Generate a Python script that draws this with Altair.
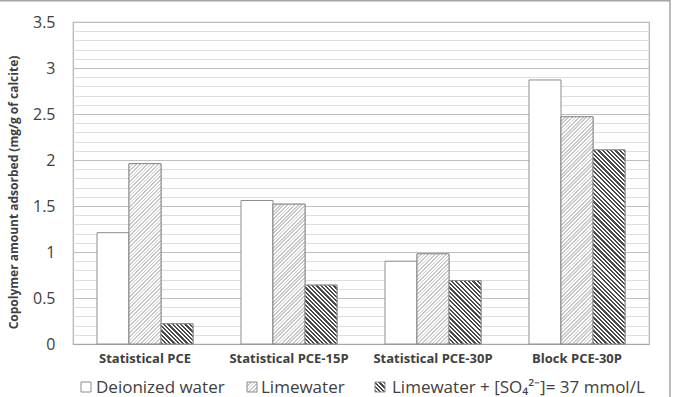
import altair as alt
import pandas as pd

# ---- data -------------------------------------------------------------
groups = ["Statistical PCE", "Statistical PCE-15P", "Statistical PCE-30P", "Block PCE-30P"]
series = ["Deionized water", "Limewater", "Limewater + [SO\u2084\u00b2\u207b]= 37 mmol/L"]
deionized_water = [1.21, 1.56, 0.90, 2.87]
limewater = [1.96, 1.52, 0.98, 2.47]
limewater_sulfate = [0.22, 0.64, 0.69, 2.11]
y_labels = [0, 0.5, 1, 1.5, 2, 2.5, 3, 3.5]
y_title = "Copolymer amount adsorbed (mg/g of calcite)"

# ---- layout -----------------------------------------------------------
PLOT_W, PLOT_H = 576, 322
Y_MAX = 3.5
PAD_INNER, PAD_OUTER = 1 / 3, 1 / 6
STEP = PLOT_W / (len(groups) - PAD_INNER + 2 * PAD_OUTER)
BAR_W = STEP * (1 - PAD_INNER) / len(series)
FONT = "Open Sans"
TEXT = "#404040"
EDGE = "#8c8c8c"

grid_values = [round(i * 0.1, 1) for i in range(int(Y_MAX * 10) + 1)]

rows = []
for name, vals in zip(series, [deionized_water, limewater, limewater_sulfate]):
    for g, v in zip(groups, vals):
        rows.append({"group": g, "series": name, "value": v})
df = pd.DataFrame(rows)


def hatch(w, h, rising, period, line, ink, paper="white"):
    """Diagonal stripes at 45 degrees for a w x h box, built as a hard-stop gradient."""
    k = (w + h) / (w * w + h * h)
    n = (w + h) / period
    stops = []
    j = 0
    while j < n:
        a = round(j / n, 5)
        m = round(min((j + line / period) / n, 1), 5)
        e = round(min((j + 1) / n, 1), 5)
        stops += [
            alt.GradientStop(offset=a, color=ink),
            alt.GradientStop(offset=m, color=ink),
            alt.GradientStop(offset=m, color=paper),
            alt.GradientStop(offset=e, color=paper),
        ]
        j += 1
    if rising:
        x1, y1, x2, y2 = 0, 0, k * w, k * h
    else:
        x1, y1, x2, y2 = 0, 1, k * w, 1 - k * h
    return alt.LinearGradient(gradient="linear", stops=stops, x1=x1, y1=y1, x2=x2, y2=y2)


LIME = dict(rising=True, period=3.6, line=1.7, ink="#c9c9c9")
SULF = dict(rising=False, period=4.3, line=2.2, ink="#4a4a4a")

# ---- encodings shared by every bar layer ---------------------------------
x_enc = alt.X(
    "group:N",
    sort=groups,
    scale=alt.Scale(domain=groups, paddingInner=PAD_INNER, paddingOuter=PAD_OUTER),
    axis=alt.Axis(
        title=None, labelAngle=0, ticks=False, grid=False,
        domain=True, domainColor="#a6a6a6", domainWidth=1,
        labelFont=FONT, labelFontSize=13, labelFontWeight="bold",
        labelColor=TEXT, labelPadding=8,
    ),
)
xo_enc = alt.XOffset(
    "series:N", sort=series,
    scale=alt.Scale(domain=series, paddingInner=0, paddingOuter=0),
)
y_enc = alt.Y(
    "value:Q",
    scale=alt.Scale(domain=[0, Y_MAX], nice=False, zero=True),
    axis=alt.Axis(
        values=grid_values,
        grid=True,
        gridColor={
            "condition": {"test": "abs(datum.value * 2 - round(datum.value * 2)) < 0.001",
                          "value": "#bfbfbf"},
            "value": "#dedede",
        },
        gridWidth=1.2,
        ticks=False, domain=False,
        labelExpr="abs(datum.value * 2 - round(datum.value * 2)) < 0.001 ? '' + datum.value : ''",
        labelOverlap=False,
        labelFont=FONT, labelFontSize=16, labelColor=TEXT, labelPadding=18,
        title=y_title, titleFont=FONT, titleFontSize=12, titleFontWeight="bold",
        titleColor=TEXT, titleAngle=270, titleX=-60, titleY=170,
        titleAlign="center", titleBaseline="middle",
    ),
)

base = alt.Chart(df).mark_bar(fill="white", stroke=EDGE, strokeWidth=1).encode(
    x=x_enc, xOffset=xo_enc, y=y_enc
)

layers = [base]
for name, vals, style in [(series[1], limewater, LIME), (series[2], limewater_sulfate, SULF)]:
    for g, v in zip(groups, vals):
        h = v * PLOT_H / Y_MAX
        layers.append(
            alt.Chart(df)
            .transform_filter((alt.datum.group == g) & (alt.datum.series == name))
            .mark_bar(fill=hatch(BAR_W, h, **style), stroke=EDGE, strokeWidth=1)
            .encode(x=x_enc, xOffset=xo_enc, y=y_enc)
        )

# ---- legend along the bottom ------------------------------------------------
one = pd.DataFrame({"k": [0]})
SYM = 10
legend_sym_x = [8, 174, 302]
legend_text_x = [23, 188, 319]
legend_fills = ["white", hatch(SYM, SYM, **LIME), hatch(SYM, SYM, **SULF)]
LEG_Y = 371
for sx, tx, fill, label in zip(legend_sym_x, legend_text_x, legend_fills, series):
    layers.append(
        alt.Chart(one).mark_rect(fill=fill, stroke=EDGE, strokeWidth=1, clip=False).encode(
            x=alt.value(sx), x2=alt.value(sx + SYM),
            y=alt.value(LEG_Y - SYM - 1), y2=alt.value(LEG_Y - 1),
        )
    )
    layers.append(
        alt.Chart(one).mark_text(
            text=label, font=FONT, fontSize=17, color=TEXT,
            align="left", baseline="alphabetic", clip=False,
        ).encode(x=alt.value(tx), y=alt.value(LEG_Y))
    )

# ---- outer frame -------------------------------------------------------------
layers.append(
    alt.Chart(one).mark_rect(fillOpacity=0, stroke="#a6a6a6", strokeWidth=1.5, clip=False).encode(
        x=alt.value(-90), x2=alt.value(597), y=alt.value(-21.2), y2=alt.value(420)
    )
)

chart = (
    alt.layer(*layers)
    .properties(
        width=PLOT_W, height=PLOT_H,
        padding={"left": 73, "top": 22, "right": 26, "bottom": 53},
        autosize=alt.AutoSizeParams(type="none"),
        background="white",
    )
    .configure_view(stroke="#b0b0b0", strokeWidth=1.2)
)

chart.save("out.html", embed_options={"renderer": "svg", "actions": False})
